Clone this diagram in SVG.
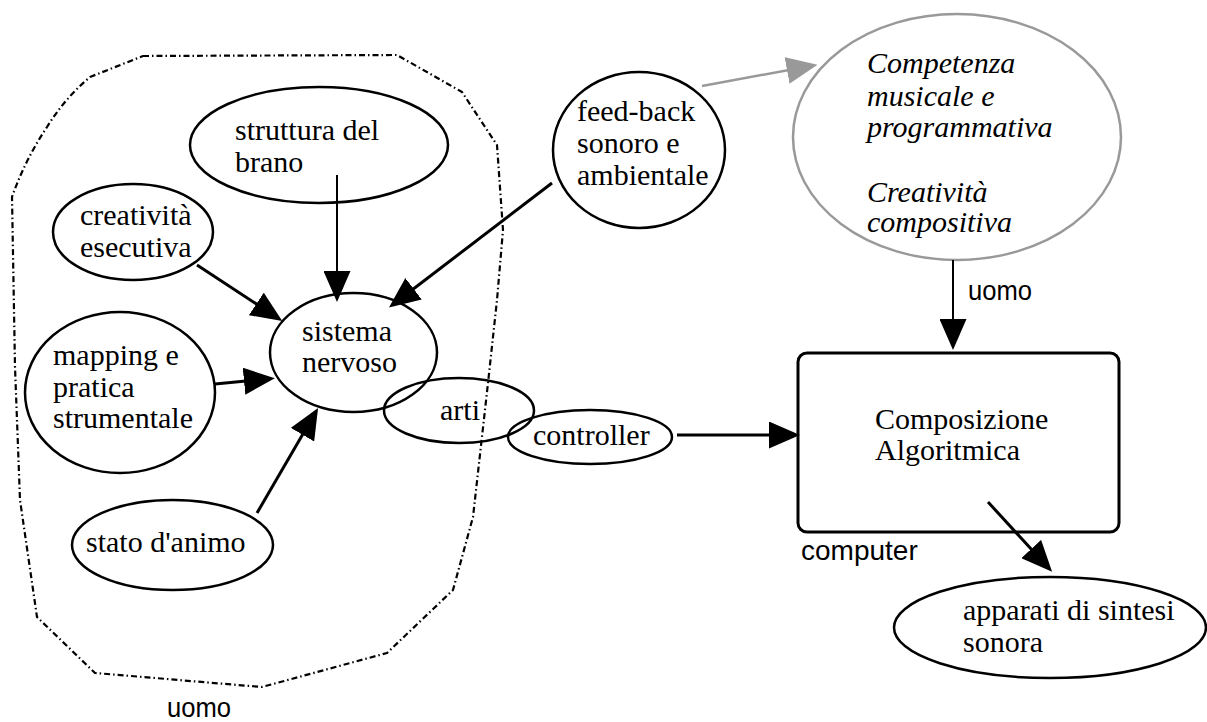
<svg xmlns="http://www.w3.org/2000/svg" width="1207" height="722" viewBox="0 0 1207 722">
  <style>
    .node { fill: none; stroke: #000; stroke-width: 2.5; }
    .soft { fill: none; stroke: #999; stroke-width: 2.5; }
    .box { fill: none; stroke: #000; stroke-width: 3; }
    .lbl { font-family: "Liberation Serif", "Times New Roman", serif; font-size: 30px; fill: #000; }
    .ital { font-family: "Liberation Serif", "Times New Roman", serif; font-size: 30px; font-style: italic; fill: #000; }
    .sans { font-family: "Liberation Sans", Arial, sans-serif; font-size: 28px; fill: #000; }
    .edge { fill: none; stroke: #000; stroke-width: 3; }
    .thin { stroke-width: 2; }
    .grey { fill: none; stroke: #999; stroke-width: 2.5; }
    .border { fill: none; stroke: #000; stroke-width: 2.2; stroke-dasharray: 6 3 1.5 3; stroke-linejoin: round; }
  </style>
  <defs>
    <marker id="head" markerUnits="userSpaceOnUse" markerWidth="31" markerHeight="27" refX="2" refY="13.5" orient="auto">
      <path d="M0,0 L31,13.5 L0,27 Z" fill="#000"/>
    </marker>
    <marker id="head-grey" markerUnits="userSpaceOnUse" markerWidth="31" markerHeight="27" refX="2" refY="13.5" orient="auto">
      <path d="M0,0 L31,13.5 L0,27 Z" fill="#999"/>
    </marker>
  </defs>

  <rect width="1207" height="722" fill="#fff"/>

  <!-- boundary of the human side -->
  <g id="uomo-area">
    <path class="border" d="M143,56 L397,55 L462,92 L497,145 L503,230 L497,300 L488,383 L473,517 L453,590 L387,653 L262,687 L95,673 L37,617 L20,500 L15,367 L12,197 Q25,160 47,127 Q65,98 90,77 Z"/>
    <text class="sans" x="167" y="717" textLength="64" lengthAdjust="spacingAndGlyphs">uomo</text>
  </g>

  <g id="struttura">
    <ellipse class="node" cx="319" cy="145" rx="129" ry="58"/>
    <text class="lbl" x="235" y="140">struttura del</text>
    <text class="lbl" x="235" y="172">brano</text>
  </g>

  <g id="creativita-esecutiva">
    <ellipse class="node" cx="133" cy="232" rx="80" ry="48"/>
    <text class="lbl" x="80" y="225">creatività</text>
    <text class="lbl" x="80" y="257">esecutiva</text>
  </g>

  <g id="mapping">
    <ellipse class="node" cx="120" cy="392.5" rx="95" ry="80.5"/>
    <text class="lbl" x="53" y="365">mapping e</text>
    <text class="lbl" x="53" y="397">pratica</text>
    <text class="lbl" x="53" y="428">strumentale</text>
  </g>

  <g id="sistema-nervoso">
    <ellipse class="node" cx="353.5" cy="352.5" rx="83.5" ry="59.5"/>
    <text class="lbl" x="302" y="341">sistema</text>
    <text class="lbl" x="302" y="372">nervoso</text>
  </g>

  <g id="arti">
    <ellipse class="node" cx="459" cy="410.5" rx="75" ry="32.5"/>
    <text class="lbl" x="440" y="420">arti</text>
  </g>

  <g id="controller">
    <ellipse class="node" cx="590" cy="437" rx="82" ry="27"/>
    <text class="lbl" x="533" y="445">controller</text>
  </g>

  <g id="stato-animo">
    <ellipse class="node" cx="172.5" cy="545" rx="100.5" ry="45"/>
    <text class="lbl" x="86" y="552">stato d'animo</text>
  </g>

  <g id="feed-back">
    <ellipse class="node" cx="639" cy="150" rx="86" ry="78"/>
    <text class="lbl" x="577" y="121">feed-back</text>
    <text class="lbl" x="577" y="153">sonoro e</text>
    <text class="lbl" x="577" y="185">ambientale</text>
  </g>

  <g id="competenza">
    <ellipse class="soft" cx="957" cy="137" rx="164" ry="123"/>
    <text class="ital" x="867" y="73">Competenza</text>
    <text class="ital" x="867" y="106">musicale e</text>
    <text class="ital" x="867" y="137">programmativa</text>
    <text class="ital" x="867" y="202">Creatività</text>
    <text class="ital" x="867" y="232">compositiva</text>
  </g>

  <g id="composizione">
    <rect class="box" x="798" y="353" width="321" height="179" rx="9" ry="9"/>
    <text class="lbl" x="875" y="429">Composizione</text>
    <text class="lbl" x="875" y="460">Algoritmica</text>
    <text class="sans" x="801" y="560">computer</text>
  </g>

  <g id="apparati">
    <ellipse class="node" cx="1050" cy="627.5" rx="156" ry="50.5"/>
    <text class="lbl" x="963" y="620">apparati di sintesi</text>
    <text class="lbl" x="963" y="652">sonora</text>
  </g>

  <!-- connectors -->
  <g id="connectors">
    <line class="edge thin" x1="337" y1="175" x2="337" y2="273" marker-end="url(#head)"/>
    <line class="edge" x1="197" y1="265" x2="258" y2="305" marker-end="url(#head)"/>
    <line class="edge" x1="552" y1="183" x2="412" y2="290" marker-end="url(#head)"/>
    <line class="edge" x1="215" y1="384" x2="246" y2="381" marker-end="url(#head)"/>
    <line class="edge" x1="257" y1="513" x2="303.5" y2="433" marker-end="url(#head)"/>
    <line class="grey" x1="702" y1="86" x2="789" y2="70" marker-end="url(#head-grey)"/>
    <line class="edge thin" x1="953" y1="260" x2="953" y2="321" marker-end="url(#head)"/>
    <text class="sans" x="968" y="300" textLength="64" lengthAdjust="spacingAndGlyphs">uomo</text>
    <line class="edge" x1="677" y1="435" x2="771" y2="435" marker-end="url(#head)"/>
    <line class="edge" x1="988" y1="502" x2="1032.5" y2="550.5" marker-end="url(#head)"/>
  </g>
</svg>
